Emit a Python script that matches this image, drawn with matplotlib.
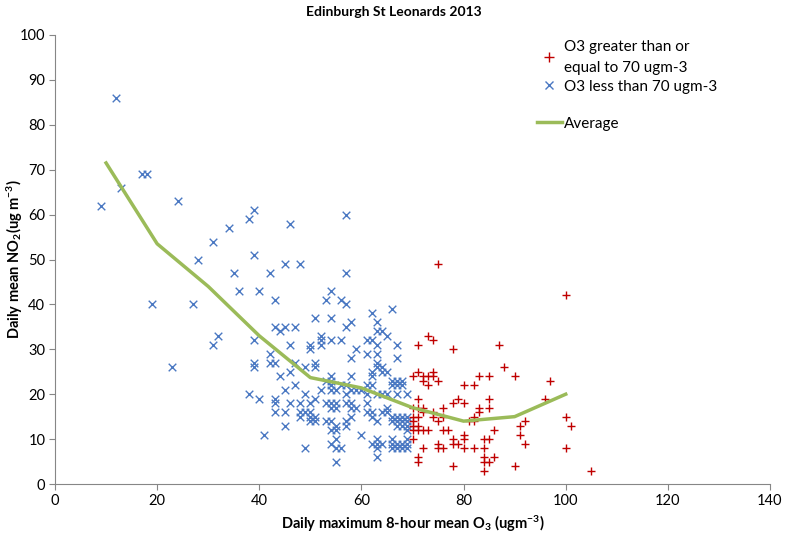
import matplotlib
matplotlib.use("Agg")
import matplotlib.pyplot as plt
from matplotlib.lines import Line2D

plt.rcParams['font.family'] = ['Lato', 'DejaVu Sans']
plt.rcParams['mathtext.default'] = 'regular'

# Average line
avg_o3 = [10, 20, 30, 40, 50, 60, 70, 80, 90, 100]
avg_no2 = [71.5, 53.5, 44, 33, 23.7, 21.4, 17, 14, 15, 20]

# O3 < 70 (blue x)
low_o3 = [12, 17, 18, 13, 9, 24, 39, 38, 34, 46, 31, 28, 39, 35, 42, 45, 48, 36, 40, 43, 19, 27,
          57, 57, 54, 53, 56, 57, 51, 54, 23, 32, 31, 39, 39, 39, 38, 40,
          43, 45, 47, 44, 46, 52, 52, 54, 50,
          62, 66, 57, 58, 63, 63, 64, 65, 62, 56, 59, 61, 63, 67,
          50, 52, 42, 42, 43, 47, 49, 51, 51, 44, 46, 47, 45, 49,
          61, 63, 67, 58, 63, 62, 62, 64, 65, 63, 64,
          43, 43, 43, 45, 46, 48, 48, 49, 50, 50, 51, 52, 53, 54, 48, 50, 50, 51, 51, 53, 53,
          45, 41, 49,
          54, 54, 54, 55, 56, 57, 58, 58, 57, 59, 60, 61, 61, 62, 63, 64, 65, 66, 67, 68, 66, 67, 68, 67, 69,
          54, 54, 55, 55, 57, 58, 58, 59, 58, 61, 61, 62, 62, 63, 64, 65, 65, 66, 66, 67, 67, 67, 68, 68,
          68, 69, 69, 69,
          54, 55, 54, 55, 57, 57, 60, 62, 63, 63, 63, 64, 63, 66, 66, 66, 67, 68, 69, 67, 68, 69,
          55, 54, 55, 56, 55, 69, 69]
low_no2 = [86, 69, 69, 66, 62, 63, 61, 59, 57, 58, 54, 50, 51, 47, 47, 49, 49, 43, 43, 41, 40, 40,
           60, 47, 43, 41, 41, 40, 37, 37, 26, 33, 31, 32, 27, 26, 20, 19,
           35, 35, 35, 34, 31, 33, 32, 32, 31,
           38, 39, 35, 36, 36, 34, 34, 33, 32, 32, 30, 32, 31, 31,
           30, 31, 29, 27, 27, 27, 26, 27, 26, 24, 25, 22, 21, 20,
           29, 29, 28, 28, 27, 25, 24, 25, 25, 26, 26,
           19, 18, 16, 16, 18, 18, 16, 16, 18, 16, 19, 21, 23, 23, 15, 15, 14, 15, 14, 14, 18,
           13, 11, 8,
           24, 22, 21, 21, 22, 22, 24, 21, 20, 21, 21, 22, 20, 22, 20, 20, 20, 23, 23, 23, 22, 22, 22, 20, 20,
           18, 17, 18, 17, 18, 18, 17, 17, 15, 18, 16, 16, 15, 14, 16, 17, 16, 15, 14, 15, 14, 13, 15, 14,
           13, 15, 14, 13,
           14, 13, 12, 12, 14, 13, 11, 9, 10, 9, 8, 9, 6, 10, 9, 8, 9, 9, 9, 8, 8, 8,
           10, 9, 8, 8, 5, 12, 10]

# O3 >= 70 (red +)
high_o3 = [75, 100, 73, 74, 71, 78, 87, 88,
           70, 71, 72, 73, 74, 74, 75, 72, 73,
           80, 82, 83, 85, 90, 97,
           85, 79, 80, 78, 96, 71,
           83, 83, 82, 81, 82,
           70, 71, 72, 74, 74, 75, 76, 76,
           100, 101, 92, 91, 91, 86, 92, 100, 105, 90,
           84, 85, 84, 84, 84, 85, 86, 84, 82,
           80, 80, 78, 78, 79, 80, 78,
           75, 75, 76, 72, 71, 71,
           70, 70, 71, 72, 73, 70, 76, 77,
           85, 70, 71, 70, 71, 72]
high_no2 = [49, 42, 33, 32, 31, 30, 31, 26,
            24, 25, 24, 24, 25, 24, 23, 23, 22,
            22, 22, 24, 24, 24, 23,
            19, 19, 18, 18, 19, 19,
            17, 16, 15, 14, 14,
            17, 17, 17, 16, 15, 14, 17, 15,
            15, 13, 14, 13, 11, 12, 9, 8, 3, 4,
            10, 10, 8, 6, 5, 5, 6, 3, 8,
            11, 10, 10, 9, 9, 8, 4,
            9, 8, 8, 8, 6, 5,
            14, 12, 12, 12, 12, 10, 12, 12,
            17, 15, 15, 13, 13, 16]

x_ticks = [0, 20, 40, 60, 80, 100, 120, 140]
y_ticks = [0, 10, 20, 30, 40, 50, 60, 70, 80, 90, 100]

blue = '#4A78C2'
red = '#C00000'
green = '#9BBB59'

fig = plt.figure(figsize=(7.87, 5.33), dpi=100)
ax = fig.add_axes([55/787, 49/533, 715/787, 449/533])

ax.scatter(high_o3, high_no2, marker='+', s=36, color=red, linewidths=1.0, zorder=3)
ax.scatter(low_o3, low_no2, marker='x', s=30, color=blue, linewidths=1.0, zorder=2)
ax.plot(avg_o3, avg_no2, color=green, lw=2.5, zorder=4)

ax.set_xlim(0, 140)
ax.set_ylim(0, 100)
ax.set_xticks(x_ticks)
ax.set_yticks(y_ticks)
ax.tick_params(labelsize=10.5, length=4, color='#868686', width=0.8)
ax.tick_params(axis='y', pad=3)
for s in ['top', 'right']:
    ax.spines[s].set_visible(False)
for s in ['left', 'bottom']:
    ax.spines[s].set_color('#868686')
    ax.spines[s].set_linewidth(0.8)

ax.set_xlabel('Daily maximum 8-hour mean O$_3$ (ugm$^{-3}$)', fontsize=10.5, fontweight='bold', labelpad=4)
ax.set_ylabel('Daily mean NO$_2$(ug m$^{-3}$)', fontsize=10.5, fontweight='bold')
ax.yaxis.set_label_coords(-0.042, 0.5)
fig.text(0.5, 0.988, 'Edinburgh St Leonards 2013', ha='center', va='top', fontsize=10, fontweight='bold')

handles = [Line2D([], [], marker='+', color=red, ls='none', markersize=7),
           Line2D([], [], marker='x', color=blue, ls='none', markersize=6),
           Line2D([], [], color='none'),
           Line2D([], [], color=green, lw=2.5)]
labels = ['O3 greater than or\nequal to 70 ugm-3', 'O3 less than 70 ugm-3', ' ', 'Average']
leg = ax.legend(handles, labels, loc='upper left', bbox_to_anchor=(0.655, 1.02), frameon=False,
                fontsize=11, handlelength=1.6, handletextpad=0.15, labelspacing=0.3)
for t in leg.get_texts():
    t.set_linespacing(1.65)

fig.savefig('out.png', dpi=100)
